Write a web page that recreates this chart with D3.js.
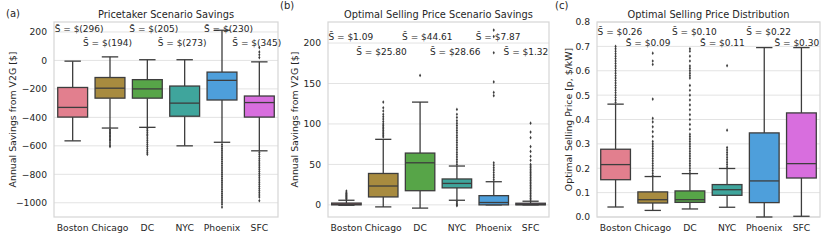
<!DOCTYPE html>
<html>
<head>
<meta charset="utf-8">
<script src="https://cdn.jsdelivr.net/npm/d3@7"></script>
<style>
  body { margin: 0; background: #fff; }
  svg text { font-family: "DejaVu Sans", sans-serif; fill: #262626; }
</style>
</head>
<body>
<svg id="chart" width="830" height="241"></svg>
<script>
const cities = ['Boston', 'Chicago', 'DC', 'NYC', 'Phoenix', 'SFC']
const colors = ['#e27f8e', '#a88b3f', '#57a548', '#3fa59c', '#4e9fdb', '#d86ede']

// (a) pricetaker savings
const aLo = [-565, -475, -470, -600, -575, -635]
const aQ1 = [-398, -265, -265, -392, -278, -398]
const aMed = [-330, -195, -200, -300, -140, -296]
const aQ3 = [-190, -120, -135, -180, -82, -250]
const aHi = [-5, 25, 5, 5, 212, -10]
const aOut = [
  [],
  [-485, -495, -505, -515, -525, -535, -545, -555, -565, -580, -595, -605],
  [-480, -492, -505, -518, -530, -545, -560, -575, -590, -605, -620, -635, -648, -660],
  [],
  [-590, -605, -620, -635, -650, -665, -680, -695, -710, -725, -740, -755, -770, -785, -800,
    -815, -830, -845, -860, -875, -890, -905, -920, -935, -950, -965, -980, -995, -1010, -1030],
  [20, 40, 60, 90, -645, -660, -675, -690, -705, -720, -735, -750, -765, -780, -795, -810,
    -825, -840, -855, -870, -885, -900, -915, -930, -945, -960, -985]
]
const aMean = ['$(296)', '$(194)', '$(205)', '$(273)', '$(230)', '$(345)']
const aTicks = [-1000, -800, -600, -400, -200, 0, 200]

// (b) optimal selling price savings
const bLo = [-0.5, -2.5, -4, 5.7, 0, 0]
const bQ1 = [0, 9.8, 17.5, 21, 0, 0]
const bMed = [0.8, 23.3, 52, 26.5, 2.9, 0.5]
const bQ3 = [2.2, 38.8, 64, 32, 11.4, 2]
const bHi = [5.7, 81, 127, 48, 28.6, 4.5]
const bOut = [
  [7, 8, 9, 10, 11, 12, 13, 14, 15, 17],
  [84, 86, 88, 90, 92, 94, 96, 98, 100, 103, 106, 109, 112, 116, 120, 127],
  [160],
  [4, 2, 0, -1, 50, 53, 56, 59, 62, 65, 68, 71, 74, 77, 80, 83, 86, 89, 92, 95, 98, 101, 104, 108, 112, 118],
  [31, 34, 37, 40, 43, 46, 49, 52, 135, 139, 152, 188, 208, 216],
  [6, 8, 10, 12, 14, 16, 18, 20, 22, 24, 26, 28, 30, 32, 34, 36, 38, 40, 42, 44, 46, 48, 50,
    55, 60, 66, 72, 83, 90, 101]
]
const bMean = ['$1.09', '$25.80', '$44.61', '$28.66', '$7.87', '$1.32']
const bTicks = [0, 50, 100, 150, 200]

// (c) optimal selling price distribution
const cLo = [0.041, 0.027, 0.033, 0.04, 0.0, 0.003]
const cQ1 = [0.153, 0.0575, 0.06, 0.089, 0.059, 0.16]
const cMed = [0.215, 0.071, 0.071, 0.112, 0.148, 0.219]
const cQ3 = [0.278, 0.103, 0.107, 0.133, 0.345, 0.427]
const cHi = [0.463, 0.166, 0.178, 0.199, 0.695, 0.695]
const cOut = [
  [0.47, 0.48, 0.49, 0.50, 0.51, 0.52, 0.53, 0.54, 0.55, 0.56, 0.57, 0.58, 0.59, 0.60,
    0.61, 0.62, 0.63, 0.64, 0.65, 0.66, 0.67, 0.68, 0.69, 0.70],
  [0.17, 0.18, 0.19, 0.20, 0.21, 0.22, 0.23, 0.24, 0.25, 0.26, 0.27, 0.28, 0.29, 0.30,
    0.31, 0.33, 0.35, 0.37, 0.39, 0.405, 0.484, 0.626, 0.64, 0.672],
  [0.18, 0.19, 0.20, 0.21, 0.22, 0.23, 0.24, 0.25, 0.26, 0.27, 0.28, 0.29, 0.30, 0.31,
    0.32, 0.33, 0.34, 0.36, 0.38, 0.40, 0.42, 0.44, 0.46, 0.48, 0.50, 0.52, 0.54, 0.57,
    0.58, 0.59, 0.60, 0.61, 0.62, 0.64, 0.66, 0.68, 0.69],
  [0.205, 0.215, 0.225, 0.235, 0.245, 0.255, 0.265, 0.275, 0.285, 0.356, 0.621],
  [],
  []
]
const cMean = ['$0.26', '$0.09', '$0.10', '$0.11', '$0.22', '$0.30']
const cTicks = [0, 0.1, 0.2, 0.3, 0.4, 0.5, 0.6, 0.7, 0.8]

const svg = d3.select('#chart')
const plotTop = 22
const plotBottom = 217
const stroke = '#3d3d3d'

function panel (opt) {
  const x = d3.scaleBand().domain(cities).range([opt.left, opt.right]).paddingInner(0).paddingOuter(0)
  const y = d3.scaleLinear().domain(opt.domain).range([plotBottom, plotTop])
  const g = svg.append('g')

  // grid
  g.append('g').selectAll('line').data(opt.ticks).enter().append('line')
    .attr('x1', opt.left).attr('x2', opt.right)
    .attr('y1', d => y(d)).attr('y2', d => y(d))
    .attr('stroke', '#e3e3e3').attr('stroke-width', 1)

  g.append('rect')
    .attr('x', opt.left).attr('y', plotTop)
    .attr('width', opt.right - opt.left).attr('height', plotBottom - plotTop)
    .attr('fill', 'none').attr('stroke', '#d6d6d6').attr('stroke-width', 1.2)

  const yAxis = d3.axisLeft(y).tickValues(opt.ticks).tickSize(0).tickPadding(7).tickFormat(opt.fmt)
  const ya = g.append('g').attr('transform', `translate(${opt.left},0)`).call(yAxis)
  ya.select('.domain').remove()
  ya.selectAll('text').style('font-size', '9.2px').style('font-family', 'DejaVu Sans').attr('fill', '#262626')

  const xAxis = d3.axisBottom(x).tickSize(0).tickPadding(7)
  const xa = g.append('g').attr('transform', `translate(0,${plotBottom})`).call(xAxis)
  xa.select('.domain').remove()
  xa.selectAll('text').style('font-size', '9.2px').style('font-family', 'DejaVu Sans').attr('fill', '#262626')

  const bw = x.bandwidth() * 0.8
  const cw = bw * 0.55
  cities.forEach(function (c, i) {
    const cx = x(c) + x.bandwidth() / 2
    const b = g.append('g')
    // whiskers
    b.append('line').attr('x1', cx).attr('x2', cx).attr('y1', y(opt.hi[i])).attr('y2', y(opt.q3[i]))
      .attr('stroke', stroke).attr('stroke-width', 1.3)
    b.append('line').attr('x1', cx).attr('x2', cx).attr('y1', y(opt.q1[i])).attr('y2', y(opt.lo[i]))
      .attr('stroke', stroke).attr('stroke-width', 1.3)
    b.selectAll('.cap').data([opt.hi[i], opt.lo[i]]).enter().append('line')
      .attr('x1', cx - cw / 2).attr('x2', cx + cw / 2)
      .attr('y1', d => y(d)).attr('y2', d => y(d))
      .attr('stroke', stroke).attr('stroke-width', 1.3)
    b.append('rect')
      .attr('x', cx - bw / 2).attr('width', bw)
      .attr('y', y(opt.q3[i])).attr('height', Math.max(1, y(opt.q1[i]) - y(opt.q3[i])))
      .attr('fill', colors[i]).attr('stroke', stroke).attr('stroke-width', 1.3)
    b.append('line').attr('x1', cx - bw / 2).attr('x2', cx + bw / 2)
      .attr('y1', y(opt.med[i])).attr('y2', y(opt.med[i]))
      .attr('stroke', stroke).attr('stroke-width', 1.3)
    b.selectAll('path').data(opt.out[i]).enter().append('path')
      .attr('d', d3.symbol(d3.symbolDiamond, 4))
      .attr('transform', d => `translate(${cx},${y(d)})`)
      .attr('fill', stroke)

    const row = i % 2
    g.append('text')
      .attr('x', cx + (row === 0 ? -18 : -27))
      .attr('y', opt.rowY[row])
      .attr('dominant-baseline', 'central')
      .style('font-size', '9px')
      .text('S\u0304 = ' + opt.mean[i])
  })

  g.append('text')
    .attr('x', (opt.left + opt.right) / 2).attr('y', 14)
    .attr('text-anchor', 'middle').attr('dominant-baseline', 'central')
    .style('font-size', '9.8px')
    .text(opt.title)

  g.append('text')
    .attr('transform', `translate(${opt.labelX},${(plotTop + plotBottom) / 2}) rotate(-90)`)
    .attr('text-anchor', 'middle').attr('dominant-baseline', 'central')
    .style('font-size', '9.4px')
    .text(opt.ylabel)

  g.append('text')
    .attr('x', opt.tagX).attr('y', opt.tagY)
    .attr('dominant-baseline', 'central')
    .style('font-size', '10px')
    .text(opt.tag)
}

panel({
  left: 54, right: 278, domain: [-1100, 270], ticks: aTicks,
  fmt: d => d3.format('d')(d).replace('-', '\u2212'),
  lo: aLo, q1: aQ1, med: aMed, q3: aQ3, hi: aHi, out: aOut, mean: aMean,
  rowY: [29.3, 42.7], title: 'Pricetaker Scenario Savings',
  ylabel: 'Annual Savings from V2G [$]', labelX: 12, tag: '(a)', tagX: 6, tagY: 13
})

panel({
  left: 328, right: 549, domain: [-15, 226], ticks: bTicks,
  fmt: d3.format('d'),
  lo: bLo, q1: bQ1, med: bMed, q3: bQ3, hi: bHi, out: bOut, mean: bMean,
  rowY: [36.7, 51.7], title: 'Optimal Selling Price Scenario Savings',
  ylabel: 'Annual Savings from V2G [$]', labelX: 294, tag: '(b)', tagX: 280, tagY: 5
})

panel({
  left: 597, right: 820, domain: [0, 0.8], ticks: cTicks,
  fmt: d3.format('.1f'),
  lo: cLo, q1: cQ1, med: cMed, q3: cQ3, hi: cHi, out: cOut, mean: cMean,
  rowY: [31.7, 43.3], title: 'Optimal Selling Price Distribution',
  ylabel: 'Optimal Selling Price [p, $/kW]', labelX: 568, tag: '(c)', tagX: 555, tagY: 5
})
</script>
</body>
</html>
